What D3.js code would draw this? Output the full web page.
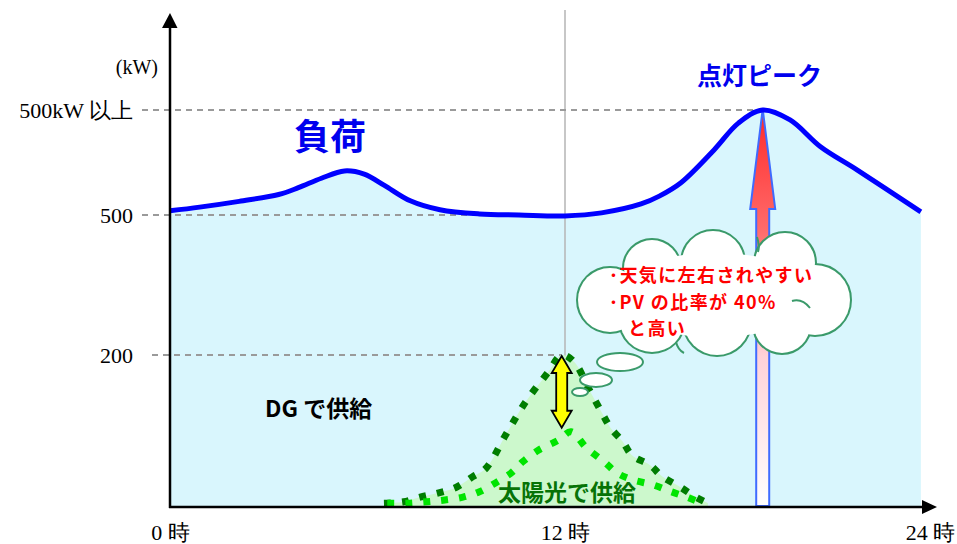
<!DOCTYPE html>
<html>
<head>
<meta charset="utf-8">
<script src="https://cdn.jsdelivr.net/npm/d3@7/dist/d3.min.js"></script>
<style>
  body { margin: 0; background: #ffffff; }
  svg { display: block; }
</style>
</head>
<body>
<svg id="chart" width="957" height="544"></svg>
<script>
// Daily load profile (hour of day, kW)
const loadHours = [0, 0.9, 2.1, 3.3, 3.9, 4.6, 5.3, 5.9, 6.5, 7.3, 8.2, 9.4, 10.6, 12, 13.2, 14.5, 15.1, 15.8, 16.9, 17.7, 18.5, 19.4, 20.4, 21.6, 23.7];
const loadKW    = [508, 515, 526, 539, 552, 570, 584, 578, 557, 527, 510, 502, 500, 498, 504, 521, 536, 561, 624, 675, 700, 681, 630, 586, 506];

// Solar output, clear-sky envelope
const pvHours = [6.5, 7.1, 7.6, 8.1, 8.7, 9.2, 9.6, 10.2, 10.8, 11.5, 11.9, 12.3, 12.8, 13.2, 13.5, 13.9, 14.2, 14.8, 15.2, 15.8, 16.3, 16.7];
const pvMaxKW = [5, 7, 13, 18, 26, 40, 51, 95, 138, 178, 200, 191, 154, 125, 104, 86, 68, 55, 40, 26, 13, 5];

// Solar output, cloudy day
const pvLowHours = [6.6, 7.2, 7.8, 8.3, 8.9, 9.4, 9.9, 10.4, 10.7, 11.2, 11.8, 12.2, 12.7, 13.3, 13.7, 14.2, 14.9, 15.5, 16.0, 16.5];
const pvLowKW    = [5, 5, 7, 9, 13, 20, 32, 46, 59, 75, 88, 99, 78, 59, 45, 36, 29, 20, 13, 5];

// Axis ticks
const xTickValues = [0, 12, 24];
const xTickLabels = ["0 時", "12 時", "24 時"];
const yTickValues = [200, 500, 700];
const yTickLabels = ["200", "500", "500kW 以上"];
const yUnit = "(kW)";

// Annotation texts
const loadLabel = "負荷";
const peakLabel = "点灯ピーク";
const dgLabel = "DG で供給";
const pvLabel = "太陽光で供給";
const cloudLines = ["･天気に左右されやすい", "･PV の比率が 40%", "と高い"];

const svg = d3.select("#chart");

// Schematic (piecewise) scales
const x = d3.scaleLinear().domain(xTickValues).range([170, 565, 930]);
const y = d3.scaleLinear().domain([0, 200, 500, 700]).range([507, 355, 215, 110]);

const load = loadHours.map((h, i) => ({ h, kw: loadKW[i] }));
const pvMax = pvHours.map((h, i) => ({ h, kw: pvMaxKW[i] }));
const pvLow = pvLowHours.map((h, i) => ({ h, kw: pvLowKW[i] }));

const peakIdx = d3.maxIndex(loadKW);
const peakHour = loadHours[peakIdx], peakKW = loadKW[peakIdx];
const pvPeakIdx = d3.maxIndex(pvMaxKW);
const pvPeakHour = pvHours[pvPeakIdx], pvPeakKW = pvMaxKW[pvPeakIdx];
const pvLowPeakKW = d3.max(pvLowKW);

const defs = svg.append("defs");
const grad = defs.append("linearGradient")
  .attr("id", "peakGrad").attr("gradientUnits", "userSpaceOnUse")
  .attr("x1", 0).attr("x2", 0).attr("y1", y(peakKW)).attr("y2", y(0));
grad.append("stop").attr("offset", 0).attr("stop-color", "#ff2a2a");
grad.append("stop").attr("offset", 0.3).attr("stop-color", "#ff6a6a");
grad.append("stop").attr("offset", 0.62).attr("stop-color", "#ffd2d8");
grad.append("stop").attr("offset", 1).attr("stop-color", "#ffffff");

// Load area
const area = d3.area().x(d => x(d.h)).y0(y(0)).y1(d => y(d.kw)).curve(d3.curveCatmullRom.alpha(0.5));
const line = d3.line().x(d => x(d.h)).y(d => y(d.kw)).curve(d3.curveCatmullRom.alpha(0.5));

svg.append("path").datum(load).attr("d", area).attr("fill", "#d9f6fd");

// Noon reference line
svg.append("line")
  .attr("x1", x(12)).attr("x2", x(12)).attr("y1", 10).attr("y2", y(0))
  .attr("stroke", "#b4b4b4").attr("stroke-width", 1.5);

// Dashed guides from the axis to the marks
const guides = [
  { kw: peakKW, x0: 142, h: peakHour },
  { kw: 500, x0: 142, h: 12 },
  { kw: pvPeakKW, x0: 152, h: pvPeakHour }
];
svg.selectAll(".guide").data(guides).enter().append("line")
  .attr("class", "guide")
  .attr("x1", d => d.x0).attr("x2", d => x(d.h))
  .attr("y1", d => y(d.kw)).attr("y2", d => y(d.kw))
  .attr("stroke", "#9a9a9a").attr("stroke-width", 2).attr("stroke-dasharray", "6 5");

// Solar area and dotted outlines
svg.append("path").datum(pvMax)
  .attr("d", d3.area().x(d => x(d.h)).y0(y(0)).y1(d => y(d.kw)).curve(d3.curveCatmullRom.alpha(0.5)))
  .attr("fill", "#ccf8cc");
svg.append("path").datum(pvMax).attr("d", line)
  .attr("fill", "none").attr("stroke", "#007d00").attr("stroke-width", 7).attr("stroke-dasharray", "7 11");
svg.append("path").datum(pvLow).attr("d", line)
  .attr("fill", "none").attr("stroke", "#00e400").attr("stroke-width", 7).attr("stroke-dasharray", "7 11");

// Peak arrow
(function () {
  const cx = x(peakHour), tip = y(peakKW) - 1, base = tip + 100, bottom = y(0) - 1;
  const hw = 12.5, sw = 6.5;
  const p = d3.path();
  p.moveTo(cx, tip); p.lineTo(cx + hw, base); p.lineTo(cx + sw, base); p.lineTo(cx + sw, bottom);
  p.lineTo(cx - sw, bottom); p.lineTo(cx - sw, base); p.lineTo(cx - hw, base); p.closePath();
  svg.append("path").attr("d", p.toString())
    .attr("fill", "url(#peakGrad)").attr("stroke", "#3f6bff").attr("stroke-width", 2);
})();

// Load line
svg.append("path").datum(load).attr("d", line)
  .attr("fill", "none").attr("stroke", "#0000ff").attr("stroke-width", 5).attr("stroke-linejoin", "round");

// Thought cloud
const cloudColor = "#3a9a6a";
const cloud = svg.append("g");
const lobes = [
  [610, 300, 32], [652, 268, 28], [713, 262, 31], [785, 263, 30],
  [815, 300, 35], [782, 325, 28], [717, 322, 33], [652, 320, 32]
];
cloud.selectAll(".lobeOut").data(lobes).enter().append("circle")
  .attr("cx", d => d[0]).attr("cy", d => d[1]).attr("r", d => d[2])
  .attr("fill", "#fff").attr("stroke", cloudColor).attr("stroke-width", 4);
cloud.selectAll(".lobeIn").data(lobes).enter().append("circle")
  .attr("cx", d => d[0]).attr("cy", d => d[1]).attr("r", d => d[2])
  .attr("fill", "#fff");
cloud.append("ellipse").attr("cx", 715).attr("cy", 295).attr("rx", 105).attr("ry", 42).attr("fill", "#fff");
// small inner curls
cloud.append("path").attr("d", "M757,237 Q760,246 758,252").attr("fill", "none").attr("stroke", cloudColor).attr("stroke-width", 2);
cloud.append("path").attr("d", "M792,301 Q802,298 810,308").attr("fill", "none").attr("stroke", cloudColor).attr("stroke-width", 2);
cloud.append("path").attr("d", "M676,342 Q678,350 684,353").attr("fill", "none").attr("stroke", cloudColor).attr("stroke-width", 2);

const bubbles = [[620, 362, 23, 9], [596, 380, 16, 7], [580, 392, 8, 4]];
svg.selectAll(".bubble").data(bubbles).enter().append("ellipse")
  .attr("cx", d => d[0]).attr("cy", d => d[1]).attr("rx", d => d[2]).attr("ry", d => d[3])
  .attr("fill", "#fff").attr("stroke", cloudColor).attr("stroke-width", 2);

const cloudPos = [[609, 282], [609, 308.5], [628, 335]];
cloudLines.forEach((t, i) => {
  svg.append("text").attr("x", cloudPos[i][0]).attr("y", cloudPos[i][1])
    .attr("font-family", "'Noto Sans CJK JP', 'Noto Sans', sans-serif")
    .attr("font-weight", "bold").attr("font-size", 18).attr("letter-spacing", 1.4)
    .attr("fill", "#ff0000").text(t);
});

// Yellow double arrow: variable solar band
(function () {
  const cx = x(pvPeakHour), t = y(pvPeakKW) + 1, b = y(pvLowPeakKW) - 4;
  const hw = 10, sw = 5.5, hh = 17;
  const p = d3.path();
  p.moveTo(cx, t); p.lineTo(cx + hw, t + hh); p.lineTo(cx + sw, t + hh); p.lineTo(cx + sw, b - hh);
  p.lineTo(cx + hw, b - hh); p.lineTo(cx, b); p.lineTo(cx - hw, b - hh); p.lineTo(cx - sw, b - hh);
  p.lineTo(cx - sw, t + hh); p.lineTo(cx - hw, t + hh); p.closePath();
  svg.append("path").attr("d", p.toString())
    .attr("fill", "#ffff00").attr("stroke", "#000").attr("stroke-width", 1.8).attr("stroke-linejoin", "miter");
})();

// Annotation labels
const jp = "'Noto Sans CJK JP', 'Noto Sans', sans-serif";
svg.append("text").attr("x", 294).attr("y", 150).attr("font-family", jp).attr("font-weight", "bold")
  .attr("font-size", 36).attr("fill", "#0000ee").text(loadLabel);
svg.append("text").attr("x", 697).attr("y", 85).attr("font-family", jp).attr("font-weight", "bold")
  .attr("font-size", 25).attr("fill", "#0000ee").text(peakLabel);
svg.append("text").attr("x", 265).attr("y", 417).attr("font-family", jp).attr("font-weight", "bold")
  .attr("font-size", 23).attr("fill", "#000").text(dgLabel);
svg.append("text").attr("x", 567).attr("y", 501).attr("text-anchor", "middle").attr("font-family", jp)
  .attr("font-weight", "bold").attr("font-size", 23).attr("fill", "#067306").text(pvLabel);

// Axes
const serif = "'Liberation Serif', 'Times New Roman', serif";
const yAxis = d3.axisLeft(y).tickValues(yTickValues)
  .tickFormat((d, i) => yTickLabels[i]).tickSize(0).tickPadding(37);
const gy = svg.append("g").attr("transform", `translate(${x(0)},0)`).call(yAxis);
gy.select(".domain").remove();
gy.selectAll("text").attr("font-family", serif).attr("font-size", 22).attr("fill", "#000");

const xAxis = d3.axisBottom(x).tickValues(xTickValues)
  .tickFormat((d, i) => xTickLabels[i]).tickSize(0).tickPadding(17);
const gx = svg.append("g").attr("transform", `translate(0,${y(0)})`).call(xAxis);
gx.select(".domain").remove();
gx.selectAll("text").attr("font-family", serif).attr("font-size", 22).attr("fill", "#000");

svg.append("text").attr("x", 158).attr("y", 74).attr("text-anchor", "end")
  .attr("font-family", serif).attr("font-size", 20).attr("fill", "#000").text(yUnit);

// Axis lines with arrowheads
svg.append("line").attr("x1", x(0)).attr("x2", x(0)).attr("y1", y(0) + 1).attr("y2", 27)
  .attr("stroke", "#000").attr("stroke-width", 2.5);
svg.append("path").attr("d", `M${x(0) - 8},28 L${x(0) + 7.5},28 L${x(0)},13 Z`).attr("fill", "#000");
svg.append("line").attr("x1", x(0) - 1).attr("x2", 923).attr("y1", y(0)).attr("y2", y(0))
  .attr("stroke", "#000").attr("stroke-width", 2.5);
svg.append("path").attr("d", `M922,${y(0) - 7} L922,${y(0) + 7} L937,${y(0)} Z`).attr("fill", "#000");
</script>
</body>
</html>
